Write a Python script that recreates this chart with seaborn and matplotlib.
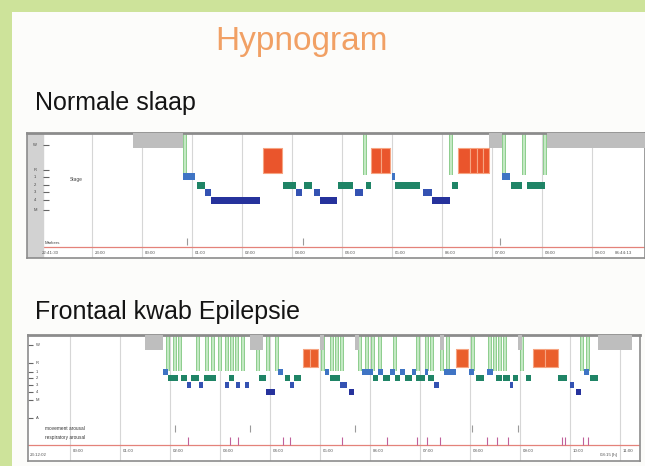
"""Two hypnograms (normal sleep vs. frontal lobe epilepsy) as on the slide."""

import matplotlib.pyplot as plt
from matplotlib.patches import Rectangle
import seaborn as sns

# ---- data: times in hours after the first hour grid line ----
NORMAL_START = [0.82, 1.82, 2.10, 2.26, 2.38, 3.42, 3.82, 4.08, 4.24, 4.44, 4.56, 4.92,
                5.26, 5.48, 5.58, 5.78, 6.00, 6.06, 6.62, 6.80, 7.20, 7.32, 7.56, 7.70,
                7.82, 7.94, 8.20, 8.38, 8.70, 9.10]
NORMAL_END = [1.82, 2.06, 2.26, 2.38, 3.36, 3.80, 4.08, 4.20, 4.40, 4.56, 4.90, 5.22,
              5.42, 5.58, 5.78, 5.96, 6.06, 6.56, 6.80, 7.16, 7.32, 7.56, 7.70, 7.82,
              7.94, 8.20, 8.36, 8.60, 9.06, 11.06]
NORMAL_STAGE = ["W", "N1", "N2", "N3", "N4", "R", "N2", "N3", "N2", "N3", "N4", "N2",
                "N3", "N2", "R", "R", "N1", "N2", "N3", "N4", "N2", "R", "R", "R",
                "R", "W", "N1", "N2", "N2", "W"]
NORMAL_AROUSALS = [1.86, 5.46, 7.18, 8.24, 8.64, 9.06]
NORMAL_EVENTS = [1.90, 4.22, 8.16]
NORMAL_HOURS = ["23:00", "00:00", "01:00", "02:00", "03:00", "04:00", "05:00",
                "06:00", "07:00", "08:00", "09:00"]

EPI_START = [1.50, 1.86, 1.96, 2.22, 2.34, 2.42, 2.58, 2.68, 3.10, 3.18, 3.32, 3.50,
             3.60, 3.78, 3.92, 4.16, 4.30, 4.40, 4.48, 4.66, 4.80, 5.00, 5.10, 5.20,
             5.40, 5.58, 5.70, 5.84, 6.06, 6.16, 6.26, 6.40, 6.50, 6.60, 6.70, 6.84,
             6.92, 7.10, 7.16, 7.28, 7.40, 7.48, 7.72, 7.98, 8.12, 8.34, 8.52, 8.66,
             8.80, 8.86, 8.96, 9.12, 9.26, 9.50, 9.76, 10.00, 10.12, 10.28, 10.40, 10.56]
EPI_END = [1.86, 1.96, 2.16, 2.34, 2.42, 2.58, 2.66, 2.92, 3.18, 3.28, 3.40, 3.58,
           3.86, 3.92, 4.10, 4.26, 4.40, 4.48, 4.62, 4.80, 4.96, 5.08, 5.18, 5.40,
           5.54, 5.68, 5.78, 6.06, 6.16, 6.26, 6.40, 6.50, 6.60, 6.70, 6.84, 6.92,
           7.10, 7.16, 7.28, 7.38, 7.48, 7.72, 7.96, 8.08, 8.28, 8.46, 8.64, 8.80,
           8.86, 8.96, 9.04, 9.22, 9.50, 9.76, 9.94, 10.08, 10.22, 10.38, 10.56, 11.24]
EPI_STAGE = ["W", "N1", "N2", "N2", "N3", "N2", "N3", "N2", "N3", "N2", "N3", "N3",
             "W", "N2", "N4", "N1", "N2", "N3", "N2", "R", "R", "W", "N1", "N2",
             "N3", "N4", "W", "N1", "N2", "N1", "N2", "N1", "N2", "N1", "N2", "N1",
             "N2", "N1", "N2", "N3", "W", "N1", "R", "N1", "N2", "N1", "N2", "N2",
             "N3", "N2", "W", "N2", "R", "R", "N2", "N3", "N4", "N1", "N2", "W"]
EPI_AROUSALS = [1.96, 2.10, 2.20, 2.56, 2.74, 2.86, 3.00, 3.14, 3.24, 3.34, 3.46, 3.76,
                3.96, 4.14, 5.06, 5.24, 5.34, 5.44, 5.80, 5.94, 6.06, 6.20, 6.50, 6.96,
                7.14, 7.24, 7.44, 7.56, 8.06, 8.40, 8.50, 8.60, 8.70, 9.04, 10.24, 10.36]
EPI_MOVEMENTS = [2.10, 3.60, 5.70, 8.04, 8.96]
EPI_RESP = [2.36, 3.20, 3.36, 4.26, 4.40, 5.44, 6.34, 6.94, 7.14, 7.40, 8.34, 8.54,
            8.76, 9.84, 9.90, 10.26, 10.36]
EPI_HOURS = ["00:00", "01:00", "02:00", "03:00", "04:00", "05:00", "06:00", "07:00",
             "08:00", "09:00", "10:00", "11:00"]

STAGE_COLORS = {"W": "#bebebe", "R": "#ea552c", "N1": "#3f74c4", "N2": "#1f8466",
                "N3": "#3452b2", "N4": "#26329c"}


def draw_panel(ax, starts, ends, stages, arousals, levels, xlim, ylim, base, hours,
               rem_color):
    ax.set_xlim(*xlim)
    ax.set_ylim(*ylim)
    ax.set_xticks([])
    ax.set_yticks([])
    ax.set_facecolor("white")
    for side in ax.spines.values():
        side.set_color("#8c8c8c")
        side.set_linewidth(1.2)
    ax.spines["top"].set_linewidth(2)

    for h in range(len(hours)):
        ax.axvline(h, color="#d6d6d6", lw=0.8, zorder=0)
        ax.text(h + 0.05, base + 5.5, hours[h], fontsize=3.2, color="#555555",
                va="center")
    ax.axhline(base, color="#e4827a", lw=0.9, zorder=1)

    for x in arousals:
        ax.vlines(x, 0, levels["N1"][0] + 2, color="#74c374", lw=2.6, zorder=2)
        ax.vlines(x, 0, levels["N1"][0] + 2, color="#cdeecd", lw=1.3, zorder=2)

    for s, e, st in zip(starts, ends, stages):
        y0, y1 = levels[st]
        face = rem_color if st == "R" else STAGE_COLORS[st]
        edge = "#f6a482" if st == "R" else "none"
        ax.broken_barh([(s, e - s)], (y0, y1 - y0), facecolors=face,
                       edgecolors=edge, linewidth=0.8, zorder=3)


sns.set_theme(style="white")
plt.rcParams["font.family"] = ["Liberation Sans", "DejaVu Sans"]

fig = plt.figure(figsize=(6.45, 4.66), dpi=100)
fig.patch.set_facecolor("#cde39a")
fig.add_artist(Rectangle((12 / 645, 0), 1, 1 - 12 / 466, transform=fig.transFigure,
                         facecolor="#fcfcfa", edgecolor="none", zorder=0))

fig.text(0.468, 0.912, "Hypnogram", color="#f1a064", fontsize=24, ha="center",
         va="center")
fig.text(35 / 645, 0.779, "Normale slaap", color="#141414", fontsize=18, va="center")
fig.text(35 / 645, 0.330, "Frontaal kwab Epilepsie", color="#141414", fontsize=18,
         va="center")

# normal sleep
ax1 = fig.add_axes([27 / 645, 1 - 258 / 466, 618 / 645, 125 / 466])
lv1 = {"W": (0, 15), "R": (15, 40), "N1": (40, 46.5), "N2": (48.5, 55.5),
       "N3": (55.5, 62.5), "N4": (63.5, 70.5)}
draw_panel(ax1, NORMAL_START, NORMAL_END, NORMAL_STAGE, NORMAL_AROUSALS, lv1,
           (-1.3, 11.06), (125, 0), 114, NORMAL_HOURS, "#ea552c")
ax1.axvspan(-1.3, -0.98, color="#d2d2d2", zorder=1)
for y, lab in zip([12, 37, 44, 52, 59, 67, 77], ["W", "R", "1", "2", "3", "4", "M"]):
    ax1.hlines(y, -0.98, -0.86, color="#666666", lw=0.8)
    ax1.text(-1.14, y, lab, fontsize=3, color="#444444", ha="center", va="center")
ax1.text(-0.45, 47, "Stage", fontsize=3.5, color="#444444", va="center")
ax1.text(-0.95, 110, "Markers", fontsize=3.2, color="#444444", va="center")
ax1.text(-1.0, 120, "22:41:30", fontsize=3.2, color="#555555", va="center")
ax1.text(10.45, 120, "06:44:13", fontsize=3.2, color="#555555", va="center")
ax1.vlines(NORMAL_EVENTS, 105, 112, color="#9a9a9a", lw=0.8)

# frontal lobe epilepsy
ax2 = fig.add_axes([28 / 645, 1 - 461 / 466, 612 / 645, 126 / 466])
lv2 = {"W": (0, 15), "R": (14, 32), "N1": (34, 40), "N2": (40, 46),
       "N3": (47, 53), "N4": (54, 60)}
draw_panel(ax2, EPI_START, EPI_END, EPI_STAGE, EPI_AROUSALS, lv2,
           (-0.84, 11.4), (126, 0), 110, EPI_HOURS, "#ea5f2c")
for y, lab in zip([10, 28, 37, 43, 50, 57, 65, 83], ["W", "R", "1", "2", "3", "4", "M", "A"]):
    ax2.hlines(y, -0.84, -0.74, color="#666666", lw=0.8)
    ax2.text(-0.68, y, lab, fontsize=3, color="#444444", va="center")
ax2.text(-0.5, 93, "movement arousal", fontsize=3.4, color="#333333", va="center")
ax2.text(-0.5, 102, "respiratory arousal", fontsize=3.4, color="#333333", va="center")
ax2.text(-0.8, 120, "23:12:02", fontsize=3.2, color="#555555", va="center")
ax2.text(10.6, 120, "08:15 [h]", fontsize=3.2, color="#555555", va="center")
ax2.vlines(EPI_MOVEMENTS, 90, 97, color="#9a9a9a", lw=0.8)
ax2.vlines(EPI_RESP, 102, 110, color="#c0609a", lw=0.8)

fig.savefig("out.png", dpi=100, facecolor=fig.get_facecolor())
